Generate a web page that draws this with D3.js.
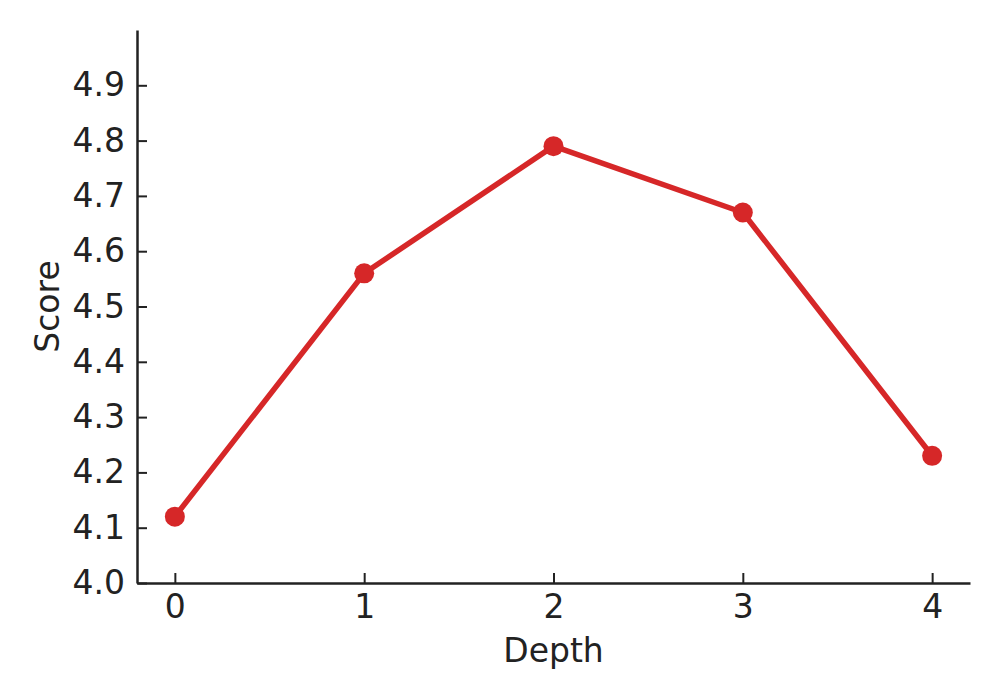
<!DOCTYPE html>
<html><head><meta charset="utf-8">
<script src="https://cdn.jsdelivr.net/npm/d3@7"></script>
<style>body{margin:0;background:#fff}svg{display:block}text{font-family:"DejaVu Sans",sans-serif;fill:#222}</style>
</head><body>
<script>
const depths = [0, 1, 2, 3, 4];
const scores = [4.12, 4.56, 4.79, 4.67, 4.23];
const yTicks = [4.0, 4.1, 4.2, 4.3, 4.4, 4.5, 4.6, 4.7, 4.8, 4.9];
const xTicks = [0, 1, 2, 3, 4];

(function () {
const W = 1000, H = 700;
const mLeft = 137, mRight = 970, mTop = 30, mBottom = 583;
const fs = 33;
const svg = d3.select("body").append("svg").attr("width", W).attr("height", H);
const x = d3.scaleLinear().domain([-0.2, 4.2]).range([mLeft, mRight]);
const y = d3.scaleLinear().domain([4.0, 5.0]).range([mBottom, mTop]);
const axisColor = "#222";

const xa = svg.append("g").attr("transform", `translate(0,${mBottom})`)
  .call(d3.axisBottom(x).tickValues(xTicks).tickFormat(d3.format("d")).tickSizeInner(-10).tickSizeOuter(0).tickPadding(12));
const ya = svg.append("g").attr("transform", `translate(${mLeft},0)`)
  .call(d3.axisLeft(y).tickValues(yTicks).tickFormat(d3.format(".1f")).tickSizeInner(-10).tickSizeOuter(0).tickPadding(12));
[xa, ya].forEach(g => {
  g.select(".domain").attr("stroke", axisColor).attr("stroke-width", 2.5);
  g.selectAll(".tick line").attr("stroke", axisColor).attr("stroke-width", 2);
  g.selectAll(".tick text").attr("font-size", fs).attr("font-family", "DejaVu Sans").attr("fill", axisColor);
});
xa.selectAll(".tick text").attr("dy", "0.71em");

svg.append("text").attr("x", (mLeft + mRight) / 2).attr("y", 662).attr("text-anchor", "middle")
  .attr("font-size", fs).text("Depth");
svg.append("text").attr("transform", `translate(59,${(mTop + mBottom) / 2}) rotate(-90)`).attr("text-anchor", "middle")
  .attr("font-size", fs).text("Score");

const color = "#d62728";
const pts = depths.map((d, i) => [d, scores[i]]);
svg.append("path").datum(pts)
  .attr("d", d3.line().x(d => x(d[0])).y(d => y(d[1])))
  .attr("fill", "none").attr("stroke", color).attr("stroke-width", 5.5).attr("stroke-linejoin", "round");
svg.selectAll("circle.pt").data(pts).enter().append("circle")
  .attr("cx", d => x(d[0])).attr("cy", d => y(d[1])).attr("r", 10).attr("fill", color);
})();
</script>
</body></html>
